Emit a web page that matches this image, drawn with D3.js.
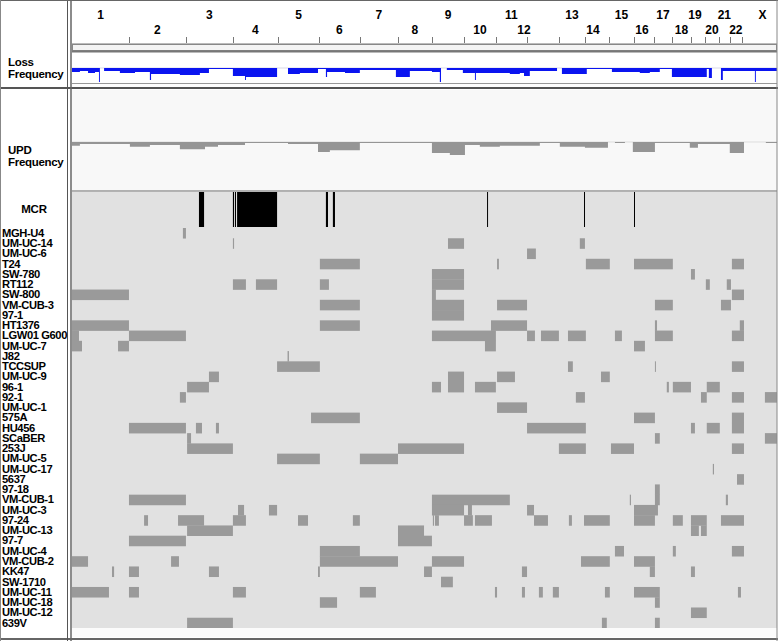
<!DOCTYPE html>
<html><head><meta charset="utf-8">
<script src="https://cdn.jsdelivr.net/npm/d3@7"></script>
<style>
body{margin:0;background:#fff;}
svg{display:block;}
text{font-family:"Liberation Sans",Arial,sans-serif;font-weight:bold;fill:#000;}
</style>
</head><body>
<svg id="c" width="778" height="641"></svg>
<script>
// ---------- DATA ----------
const chromosomes = ["1","2","3","4","5","6","7","8","9","10","11","12","13","14","15","16","17","18","19","20","21","22","X"];
const chromLengths = [245,245,202,194,176,176,164,146,138,137,134,137,112,103,108,86,77,82,60,60,47,52,151]; // Mb

const samples = ["MGH-U4","UM-UC-14","UM-UC-6","T24","SW-780","RT112","SW-800","VM-CUB-3","97-1","HT1376",
  "LGW01 G600","UM-UC-7","J82","TCCSUP","UM-UC-9","96-1","92-1","UM-UC-1","575A","HU456",
  "SCaBER","253J","UM-UC-5","UM-UC-17","5637","97-18","VM-CUB-1","UM-UC-3","97-24","UM-UC-13",
  "97-7","UM-UC-4","VM-CUB-2","KK47","SW-1710","UM-UC-11","UM-UC-18","UM-UC-12","639V"];

// UPD segments per sample, genome position in Mb [start, end]
const updSegments = [
  [[477,490]],
  [[692,697],[1617,1686],[2184,2206]],
  [[1957,1995]],
  [[1066,1238],[1828,1836],[2210,2313],[2417,2584],[2838,2890]],
  [[1548,1686],[2662,2679]],
  [[692,748],[791,882],[1066,1105],[1548,1686],[2726,2743],[2816,2834]],
  [[0,245],[1548,1565],[2838,2890]],
  [[1066,1238],[1548,1686],[1828,1957],[2507,2584],[2791,2834]],
  [[1548,1686]],
  [[0,245],[1066,1238],[1802,1957],[2507,2516],[2872,2890]],
  [[0,30],[245,490],[1548,1823],[1957,1991],[2017,2094],[2133,2210],[2335,2365],[2507,2584],[2838,2890]],
  [[0,43],[198,245],[1776,1823],[2417,2464]],
  [[927,933]],
  [[882,1066],[2133,2154],[2507,2511],[2838,2890]],
  [[589,632],[1617,1686],[1828,1905],[2275,2313]],
  [[495,589],[1548,1587],[1617,1686],[1733,1823],[2558,2567],[2584,2662],[2730,2786]],
  [[464,490],[2167,2206],[2705,2730],[2838,2890],[2980,3032]],
  [[1828,1957]],
  [[1028,1238],[2417,2507],[2838,2890]],
  [[245,490],[533,559],[619,632],[1957,2210],[2662,2679],[2730,2786],[2838,2890]],
  [[495,512],[2507,2528],[2980,3032]],
  [[495,692],[1402,1686],[2094,2210],[2318,2417],[2838,2890]],
  [[882,1066],[1238,1402]],
  [[2756,2761]],
  [[2860,2890]],
  [[2507,2528]],
  [[245,490],[1548,1883],[2399,2404],[2507,2528],[2812,2821]],
  [[714,740],[847,882],[1548,1686],[1703,1720],[1957,1987],[2417,2520]],
  [[310,327],[456,568],[692,748],[972,1015],[1208,1238],[1552,1557],[1561,1578],[1686,1724],[1733,1806],[1987,2047],[2137,2150],[2202,2313],[2417,2507],[2584,2627],[2662,2730],[2791,2890]],
  [[495,692],[1402,1514],[2662,2696],[2705,2730]],
  [[245,490],[1402,1548]],
  [[1066,1238],[2335,2374],[2584,2597],[2838,2890]],
  [[0,69],[426,460],[1066,1402],[1548,1686],[2189,2313],[2417,2507]],
  [[172,181],[245,288],[589,632],[1058,1066],[1514,1548],[1935,1957],[2485,2507],[2662,2679]],
  [[1587,1638]],
  [[0,159],[245,288],[692,748],[1238,1307],[1819,1828],[1935,1948],[2008,2025],[2068,2094],[2292,2313],[2417,2528],[2864,2877]],
  [[1066,1140],[2507,2528]],
  [[2662,2730]],
  [[495,692],[2279,2300],[2507,2528]]
];

// Minimal common regions (Mb)
const mcrRegions = [[546,568],[692,697],[701,705],[710,882],[1092,1101],[1122,1131],[1785,1789],[2202,2206],[2417,2421]];

// Loss frequency (%), step function: [start Mb, value]
const lossFreq = [[0,27],[34,20],[69,33],[99,27],[116,93],[120,0],[138,20],[206,33],[271,27],[335,80],[340,40],
  [464,47],[550,33],[589,7],[692,53],[744,80],[748,60],[882,0],[929,40],[980,33],[1058,7],[1092,60],[1097,27],
  [1174,33],[1238,13],[1393,60],[1453,20],[1548,27],[1582,93],[1587,0],[1612,13],[1681,33],[1733,80],[1737,33],
  [1883,40],[1926,33],[1944,53],[1969,20],[2086,0],[2107,40],[2214,7],[2322,27],[2442,33],[2485,27],[2528,7],
  [2580,60],[2730,7],[2739,67],[2752,0],[2791,80],[2799,20],[2937,93],[2941,20],[3032,20]];

// UPD frequency (%), step function: [start Mb, value]
const updFreq = [[0,8],[34,4],[249,10],[335,6],[464,15],[572,10],[628,6],[744,2],[929,4],[1058,21],[1109,17],
  [1238,2],[1548,23],[1625,27],[1690,6],[1754,10],[1840,8],[2012,2],[2098,10],[2206,12],[2305,0],[2335,2],
  [2378,0],[2412,21],[2507,2],[2657,12],[2692,4],[2829,23],[2890,0],[2984,2],[3032,2]];

// ---------- DRAW ----------
const svg = d3.select("#c");
const W = 778, H = 641;
const total = d3.sum(chromLengths);
const starts = d3.cumsum([0].concat(chromLengths.slice(0,-1)));
const x = d3.scaleLinear().domain([0,total]).range([72,777]);

svg.append("rect").attr("x",0).attr("y",0).attr("width",W).attr("height",H).attr("fill","#fff");

// sample + MCR background
svg.append("rect").attr("x",72).attr("y",192).attr("width",705).attr("height",436).attr("fill","#e1e1e1");
// UPD track background
svg.append("rect").attr("x",72).attr("y",90).attr("width",705).attr("height",101).attr("fill","#f8f8f8");

// chromosome labels
const labelNudge = {"12":-19,"14":-4,"16":-2,"19":-3,"X":3};
svg.append("g").selectAll("text").data(chromosomes).join("text")
  .attr("x",(d,i)=>x(starts[i]+chromLengths[i]/2)+(labelNudge[d]||0))
  .attr("y",(d,i)=> i%2===0 ? 18.5 : 33.5)
  .attr("text-anchor","middle").attr("font-size",12).text(d=>d);

// ticks at chromosome boundaries
svg.append("g").selectAll("line").data(starts.slice(1)).join("line")
  .attr("x1",d=>Math.round(x(d))+0.5).attr("x2",d=>Math.round(x(d))+0.5)
  .attr("y1",37).attr("y2",43).attr("stroke","#777").attr("stroke-width",1);
svg.append("line").attr("x1",72).attr("x2",777).attr("y1",43.5).attr("y2",43.5).attr("stroke","#bbb");
svg.append("rect").attr("x",72.5).attr("y",44.5).attr("width",704).attr("height",6).attr("fill","#f4f4f4").attr("stroke","#888");
svg.append("line").attr("x1",72).attr("x2",777).attr("y1",51.5).attr("y2",51.5).attr("stroke","#777").attr("stroke-width",2);

// Loss frequency
const yLoss = d3.scaleLinear().domain([0,100]).range([68,83]);
svg.append("line").attr("x1",72).attr("x2",777).attr("y1",68).attr("y2",68).attr("stroke","#d8d8e8");
svg.append("path").datum(lossFreq)
  .attr("d",d3.area().curve(d3.curveStepAfter).x(d=>x(d[0])).y0(yLoss(0)).y1(d=>yLoss(d[1])))
  .attr("fill","#0a14f0");
svg.append("line").attr("x1",72).attr("x2",777).attr("y1",83.5).attr("y2",83.5).attr("stroke","#999");

// separator
svg.append("line").attr("x1",0).attr("x2",W).attr("y1",88).attr("y2",88).attr("stroke","#555").attr("stroke-width",2);

// UPD frequency
const yUpd = d3.scaleLinear().domain([0,100]).range([142,190]);
svg.append("line").attr("x1",72).attr("x2",777).attr("y1",142).attr("y2",142).attr("stroke","#ddd");
svg.append("path").datum(updFreq)
  .attr("d",d3.area().curve(d3.curveStepAfter).x(d=>x(d[0])).y0(yUpd(0)).y1(d=>yUpd(d[1])))
  .attr("fill","#959595");
svg.append("line").attr("x1",72).attr("x2",777).attr("y1",191).attr("y2",191).attr("stroke","#999").attr("stroke-width",1.5);

// MCR
svg.append("g").selectAll("rect").data(mcrRegions).join("rect")
  .attr("x",d=>x(d[0])).attr("width",d=>Math.max(1,x(d[1])-x(d[0])))
  .attr("y",192).attr("height",35).attr("fill","#000");

// samples
const yRow = d3.scaleBand().domain(samples).range([228,628]).padding(0);
const segs = [];
updSegments.forEach((arr,i)=>arr.forEach(s=>segs.push({sample:samples[i],s:s[0],e:s[1]})));
svg.append("g").selectAll("rect").data(segs).join("rect")
  .attr("x",d=>x(d.s)).attr("width",d=>Math.max(1,x(d.e)-x(d.s)))
  .attr("y",d=>yRow(d.sample)).attr("height",yRow.bandwidth()+0.3)
  .attr("fill","#9a9a9a");

// bottom white strip
svg.append("rect").attr("x",72).attr("y",628).attr("width",705).attr("height",9).attr("fill","#fbfbfb");
svg.append("line").attr("x1",0).attr("x2",W).attr("y1",639).attr("y2",639).attr("stroke","#666").attr("stroke-width",2);

// frame
svg.append("line").attr("x1",67.5).attr("x2",67.5).attr("y1",0).attr("y2",H).attr("stroke","#555");
svg.append("line").attr("x1",71).attr("x2",71).attr("y1",0).attr("y2",H).attr("stroke","#666").attr("stroke-width",1.5);
svg.append("line").attr("x1",0).attr("x2",W).attr("y1",0.5).attr("y2",0.5).attr("stroke","#666");
svg.append("line").attr("x1",0.5).attr("x2",0.5).attr("y1",0).attr("y2",H).attr("stroke","#888");
svg.append("line").attr("x1",777).attr("x2",777).attr("y1",0).attr("y2",H).attr("stroke","#888");

// track labels
const lab = svg.append("g").attr("letter-spacing","-0.3px").attr("font-size",11.5);
lab.append("text").attr("x",8).attr("y",65.5).text("Loss");
lab.append("text").attr("x",8).attr("y",77.5).text("Frequency");
lab.append("text").attr("x",8).attr("y",153.5).text("UPD");
lab.append("text").attr("x",8).attr("y",165.5).text("Frequency");
lab.append("text").attr("x",34).attr("y",212.5).attr("text-anchor","middle").text("MCR");

// sample labels
svg.append("g").attr("letter-spacing","-0.4px").selectAll("text").data(samples).join("text")
  .attr("x",2).attr("y",d=>yRow(d)+8.8).attr("font-size",11.2).text(d=>d);
</script>
</body></html>
